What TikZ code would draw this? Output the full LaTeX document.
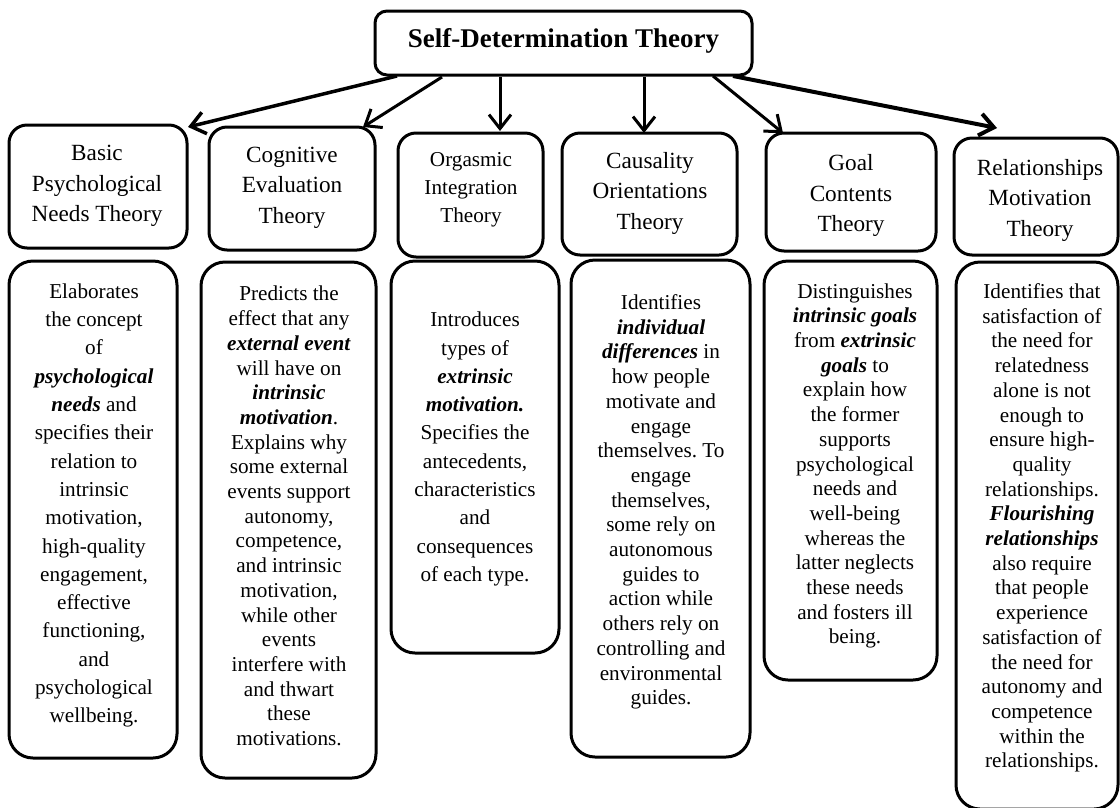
\documentclass[tikz,border=0pt]{standalone}
\usepackage{fontspec}
\setmainfont{Liberation Serif}
\usetikzlibrary{arrows.meta}
\newcommand{\keyterm}[1]{\textbf{\textit{#1}}}
\frenchspacing
\begin{document}
\begin{tikzpicture}[x=1pt,y=-1pt,
  frame/.style={draw=black, line width=3pt, inner sep=0pt, outer sep=0pt},
  titlebox/.style={frame, rounded corners=12pt},
  headbox/.style={frame, rounded corners=18pt},
  bodybox/.style={frame, rounded corners=24pt},
  txt/.style={align=center, inner sep=0pt, text=black},
  titletxt/.style={txt, font=\fontsize{27}{32}\selectfont\bfseries},
  headtxt/.style={txt, font=\fontsize{23.2}{30.5}\selectfont},
  headsmall/.style={txt, font=\fontsize{21.2}{28}\selectfont},
  bodywide/.style={txt, font=\fontsize{21.2}{28.3}\selectfont},
  bodytight/.style={txt, font=\fontsize{21.2}{24.7}\selectfont},
  link/.style={draw=black, line width=3pt, -{Straight Barb[length=14pt,width=22pt]}}
]
\useasboundingbox (0,0) rectangle (1120,807);

% top node
\node[titlebox, minimum width=377, minimum height=64] (title) at (563.5,43) {};
\node[titletxt] (titletext) at (563.5,41) {Self-Determination Theory};

% theory headings
\node[headbox, minimum width=178, minimum height=123] (h1) at (98,186.5) {};
\node[headbox, minimum width=166, minimum height=123] (h2) at (292,188.5) {};
\node[headbox, minimum width=145, minimum height=124] (h3) at (470.5,195) {};
\node[headbox, minimum width=175, minimum height=122] (h4) at (649.5,194) {};
\node[headbox, minimum width=170, minimum height=118] (h5) at (851,192) {};
\node[headbox, minimum width=164, minimum height=117] (h6) at (1036,196.5) {};

\node[headtxt] (h1text) at (97,186) {Basic\\Psychological\\Needs Theory};
\node[headtxt] (h2text) at (292,187.5) {Cognitive\\Evaluation\\Theory};
\node[headsmall] (h3text) at (471,190) {Orgasmic\\Integration\\Theory};
\node[headtxt] (h4text) at (650,193) {Causality\\Orientations\\Theory};
\node[headtxt] (h5text) at (851,195.5) {Goal\\Contents\\Theory};
\node[headtxt] (h6text) at (1040,200) {Relationships\\Motivation\\Theory};

% description boxes
\node[bodybox, minimum width=168, minimum height=497] (b1) at (93,509.5) {};
\node[bodybox, minimum width=175, minimum height=516] (b2) at (288.5,520) {};
\node[bodybox, minimum width=168, minimum height=392] (b3) at (475,457) {};
\node[bodybox, minimum width=179, minimum height=497] (b4) at (660.5,508.5) {};
\node[bodybox, minimum width=173, minimum height=419] (b5) at (850.5,470.5) {};
\node[bodybox, minimum width=162, minimum height=547] (b6) at (1037,535.5) {};

\node[bodywide] (b1text) at (94,505.5) {Elaborates\\the concept\\of\\\keyterm{psychological}\\\keyterm{needs} and\\specifies their\\relation to\\intrinsic\\motivation,\\high-quality\\engagement,\\effective\\functioning,\\and\\psychological\\wellbeing.};

\node[bodytight] (b2text) at (289,516) {Predicts the\\effect that any\\\keyterm{external event}\\will have on\\\keyterm{intrinsic}\\\keyterm{motivation}.\\Explains why\\some external\\events support\\autonomy,\\competence,\\and intrinsic\\motivation,\\while other\\events\\interfere with\\and thwart\\these\\motivations.};

\node[bodywide] (b3text) at (475,449) {Introduces\\types of\\\keyterm{extrinsic}\\\keyterm{motivation.}\\Specifies the\\antecedents,\\characteristics\\and\\consequences\\of each type.};

\node[bodytight] (b4text) at (661,502) {Identifies\\\keyterm{individual}\\\keyterm{differences} in\\how people\\motivate and\\engage\\themselves. To\\engage\\themselves,\\some rely on\\autonomous\\guides to\\action while\\others rely on\\controlling and\\environmental\\guides.};

\node[bodytight] (b5text) at (855,466) {Distinguishes\\\keyterm{intrinsic goals}\\from \keyterm{extrinsic}\\\keyterm{goals} to\\explain how\\the former\\supports\\psychological\\needs and\\well-being\\whereas the\\latter neglects\\these needs\\and fosters ill\\being.};

\node[bodytight] (b6text) at (1042,528) {Identifies that\\satisfaction of\\the need for\\relatedness\\alone is not\\enough to\\ensure high-\\quality\\relationships.\\\keyterm{Flourishing}\\\keyterm{relationships}\\also require\\that people\\experience\\satisfaction of\\the need for\\autonomy and\\competence\\within the\\relationships.};

% arrows from the top node to each theory
\draw[link, line width=3.5pt] ([shift={(22,1)}]title.south west) -- ([shift={(1,2)}]h1.north east);
\draw[link] ([shift={(67,2)}]title.south west) -- ([shift={(-12,0)}]h2.north east);
\draw[link] ([shift={(125,2)}]title.south west) -- ([shift={(29.5,-2)}]h3.north);
\draw[link] ([shift={(269,2)}]title.south west) -- ([shift={(-5.5,0)}]h4.north);
\draw[link] ([shift={(-39,1)}]title.south east) -- ([shift={(17,0)}]h5.north west);
\draw[link, line width=4pt] ([shift={(-19,1)}]title.south east) -- ([shift={(43,-10)}]h6.north west);
\end{tikzpicture}
\end{document}
